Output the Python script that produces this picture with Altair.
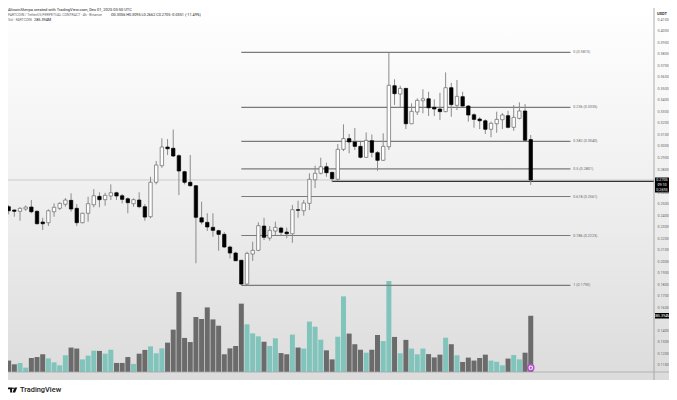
import altair as alt
import pandas as pd

first_index = -3
opens = [.2449,.2473,.2444,.2433,.2453,.2470,.2433,.2340,.2334,.2429,.2459,.2494,.2528,.2459,.2334,.2416,.2490,.2563,.2534,.2566,.2594,.2568,.2542,.2499,.2531,.2473,.2386,.2685,.2829,.2991,.2980,.2916,.2777,.2685,.2655,.2377,.2337,.2294,.2265,.2233,.2123,.2071,.2008,.1802,.2062,.2094,.2305,.2201,.2262,.2288,.2253,.2238,.2447,.2438,.2502,.2707,.2763,.2820,.2771,.2711,.2971,.3064,.3035,.2997,.2902,.3046,.2942,.2876,.2994,.3523,.3451,.3500,.3193,.3295,.3393,.3410,.3336,.3321,.3298,.3506,.3353,.3428,.3347,.3271,.3234,.3219,.3145,.3193,.3228,.3263,.3162,.3240,.3304,.3056]
closes = [.2473,.2438,.2433,.2459,.2470,.2429,.2325,.2325,.2438,.2468,.2502,.2531,.2453,.2334,.2416,.2499,.2568,.2534,.2572,.2594,.2566,.2537,.2508,.2534,.2473,.2383,.2685,.2835,.2991,.2976,.2913,.2783,.2685,.2655,.2381,.2340,.2297,.2268,.2233,.2123,.2071,.2004,.1802,.2068,.2094,.2308,.2207,.2268,.2294,.2251,.2238,.2447,.2442,.2505,.2711,.2763,.2820,.2768,.2716,.2971,.3064,.3035,.2997,.2902,.3049,.2945,.2876,.2997,.3527,.3454,.3500,.3193,.3301,.3396,.3410,.3332,.3321,.3298,.3506,.3359,.3431,.3347,.3269,.3231,.3219,.3145,.3197,.3231,.3269,.3162,.3249,.3304,.3050,.2705]
highs = [.2483,.2488,.2450,.2468,.2482,.2531,.2442,.2377,.2450,.2502,.2511,.2548,.2589,.2496,.2421,.2560,.2626,.2598,.2594,.2667,.2603,.2583,.2554,.2546,.2598,.2496,.2733,.2870,.3066,.3060,.3143,.2928,.2785,.2922,.2661,.2516,.2416,.2416,.2273,.2251,.2134,.2082,.2010,.2082,.2169,.2337,.2377,.2305,.2343,.2299,.2291,.2488,.2525,.2531,.2763,.2829,.2898,.2855,.2777,.3017,.3188,.3104,.3156,.3035,.3118,.3100,.2956,.3110,.3813,.3579,.3523,.3505,.3370,.3414,.3492,.3471,.3405,.3462,.3639,.3549,.3573,.3471,.3356,.3284,.3249,.3231,.3211,.3298,.3286,.3306,.3355,.3379,.3364,.3095]
lows = [.2436,.2407,.2386,.2351,.2438,.2416,.2320,.2271,.2305,.2386,.2444,.2473,.2429,.2305,.2329,.2343,.2468,.2468,.2482,.2531,.2531,.2502,.2416,.2473,.2459,.2351,.2372,.2667,.2811,.2922,.2904,.2574,.2667,.2650,.1982,.2320,.2262,.2212,.2091,.2117,.2025,.2002,.1793,.1793,.2002,.2088,.2184,.2178,.2227,.2227,.2199,.2160,.2377,.2395,.2444,.2635,.2754,.2733,.2685,.2699,.2956,.2936,.2965,.2893,.2896,.2902,.2785,.2870,.2965,.3356,.3336,.3147,.3191,.3269,.3284,.3260,.3260,.3225,.3293,.3254,.3312,.3341,.3211,.3159,.3147,.3104,.3075,.3115,.3147,.3153,.3132,.3231,.3044,.2662]
volumes = [42,58,39,46,22,71,76,90,69,49,34,85,124,119,64,83,108,107,93,113,46,46,76,41,93,112,130,95,120,149,215,406,173,152,279,269,328,267,235,90,120,132,347,242,196,181,154,132,171,96,90,190,124,119,256,230,164,110,64,179,384,195,141,113,98,113,188,157,462,178,95,163,119,90,119,91,74,88,174,141,85,51,73,58,71,88,58,52,34,68,86,64,98,285.394]

fib_ratios = ["0", "0.236", "0.382", "0.5", "0.618", "0.786", "1"]
fib_prices = [0.3813, 0.3335, 0.3040, 0.2801, 0.2561, 0.2223, 0.1790]
fib_start = 39
fib_end = 97
last_price = 0.2705
marked_price = 0.2693
marked_start = 55

price_ticks = [0.11,0.12,0.13,0.14,0.16,0.17,0.18,0.19,0.20,0.21,0.22,0.23,0.24,0.25,0.26,0.28,0.29,0.30,0.31,0.32,0.33,0.34,0.35,0.36,0.37,0.38,0.39,0.40,0.41]
day_labels = ["16","17","18","19","20","21","22","23","24","25","26","27","28","29","30","Dec","2","3","4"]
candles_per_day = 6

PW, PH = 646, 364
TOTAL_W = 661
XS = alt.Scale(domain=[-2.115, 111.72], nice=False, zero=False, padding=0)
YS = alt.Scale(domain=[0.10382, 0.41979], nice=False, zero=False, padding=0)
VS = alt.Scale(domain=[0, 1848], nice=False, zero=False, padding=0)
FONT = "Roboto"
SMALL = 3.7

df = pd.DataFrame({"i": list(range(first_index, first_index + len(opens))),
                   "open": opens, "high": highs, "low": lows, "close": closes,
                   "volume": volumes})
fib = pd.DataFrame({"price": fib_prices, "a": fib_start, "b": fib_end, "t": fib_end + 0.5,
                    "label": [f"{r} ({p:.4f})" for r, p in zip(fib_ratios, fib_prices)]})
one = pd.DataFrame({"p": [last_price], "m": [marked_price], "a": [marked_start], "b": [111.72]})
UP = "datum.close >= datum.open"

bg = alt.Chart(one).mark_rect(
    color=alt.LinearGradient(gradient="linear", x1=0, x2=0, y1=0, y2=1,
                             stops=[alt.GradientStop(color="#ffffff", offset=0),
                                    alt.GradientStop(color="#efefef", offset=0.5),
                                    alt.GradientStop(color="#dcdcdc", offset=1)])
).encode(x=alt.value(0), x2=alt.value(TOTAL_W), y=alt.value(0), y2=alt.value(372))

day_axis = alt.Axis(values=[k * candles_per_day for k in range(len(day_labels))],
                    labelExpr="[" + ",".join(f"'{d}'" for d in day_labels) + f"][datum.value/{candles_per_day}]",
                    labelFont=FONT, labelFontSize=SMALL, labelColor="#666666", labelPadding=1.5,
                    ticks=False, domain=False, grid=False, title=None, zindex=1, labelOverlap=False)
price_axis = alt.Axis(orient="right", values=price_ticks, format=".4f", labelFont=FONT,
                      labelFontSize=SMALL, labelColor="#666666", labelPadding=3,
                      ticks=False, domain=False, grid=False, title=None, zindex=1, labelOverlap=False)
X = alt.X("i:Q", scale=XS, axis=None)

vol = alt.Chart(df).mark_bar(size=5).encode(
    x=alt.X("i:Q", scale=XS, axis=day_axis),
    y=alt.Y("volume:Q", scale=VS, axis=None),
    color=alt.condition(UP, alt.value("#80c4bc"), alt.value("#6b6b6b")))

price_line = alt.Chart(one).mark_rule(color="#bdbdbd", strokeWidth=0.7).encode(
    y=alt.Y("p:Q", scale=YS, axis=None))

fib_lines = alt.Chart(fib).mark_rule(color="#7a7a7a", strokeWidth=1.1).encode(
    x=alt.X("a:Q", scale=XS, axis=None), x2="b:Q", y=alt.Y("price:Q", scale=YS, axis=None))
fib_text = alt.Chart(fib).mark_text(align="left", baseline="middle", font=FONT, fontSize=SMALL,
                                    color="#666666").encode(
    x=alt.X("t:Q", scale=XS, axis=None), y=alt.Y("price:Q", scale=YS, axis=None), text="label:N")

marked = alt.Chart(one).mark_rule(color="#333333", strokeWidth=1.3).encode(
    x=alt.X("a:Q", scale=XS, axis=None), x2="b:Q", y=alt.Y("m:Q", scale=YS, axis=None))

wicks = alt.Chart(df).mark_rule(color="#8c8c8c", strokeWidth=1).encode(
    x=X, y=alt.Y("low:Q", scale=YS, axis=None), y2="high:Q")
bodies = alt.Chart(df).mark_bar(size=3.4, strokeWidth=0.7).encode(
    x=X, y=alt.Y("open:Q", scale=YS, axis=price_axis), y2="close:Q",
    color=alt.condition(UP, alt.value("#ffffff"), alt.value("#000000")),
    stroke=alt.condition(UP, alt.value("#666666"), alt.value("#000000")))

rule_v = alt.Chart(one).mark_rule(color="#9a9a9a", strokeWidth=0.8).encode(
    x=alt.value(PW), y=alt.value(0), y2=alt.value(372))
rule_h = alt.Chart(one).mark_rule(color="#a8a8a8", strokeWidth=0.8).encode(
    x=alt.value(0), x2=alt.value(TOTAL_W), y=alt.value(PH))


def box(x1, x2, y1, y2, color):
    return alt.Chart(one).mark_rect(color=color).encode(
        x=alt.value(x1), x2=alt.value(x2), y=alt.value(y1), y2=alt.value(y2))


def text(t, x, y, color="#666666", size=SMALL, align="left", weight="normal"):
    return alt.Chart(one).mark_text(text=t, align=align, baseline="middle", font=FONT,
                                    fontSize=size, color=color, fontWeight=weight).encode(
        x=alt.value(x), y=alt.value(y))


boxes = [box(647, 661, 169.5, 184.5, "#000000"), box(647, 661, 305, 310.5, "#000000"),
         box(647, 661, 1, 10, "#ffffff")]
labels = [
    text("0.2705", 654, 172, "#ffffff", align="center"),
    text("09:10", 654, 176.8, "#ffffff", align="center"),
    text("0.2693", 654, 181.6, "#ffffff", align="center"),
    text("285.394M", 654, 307.8, "#ffffff", align="center"),
    text("USDT", 654, 6.3, "#333333", size=4, align="center", weight="bold"),
    text("AltcoinSherpa created with TradingView.com, Dec 01, 2025 03:50 UTC", 0, 2, "#222222", size=4.0),
    text("FARTCOIN / TetherUS PERPETUAL CONTRACT · 4h · Binance", 0, 6.8, "#666666", size=3.5),
    text("O0.3056 H0.3095 L0.2662 C0.2705 -0.0351 (-11.49%)", 103, 6.8, "#222222", size=3.8),
    text("Vol · FARTCOIN", 0, 11.5, "#666666", size=3.5),
    text("285.394M", 26, 11.5, "#222222", size=3.8),
    text("TradingView", 12, 382, "#1a1a1a", size=7.4, weight=500),
]

logo_path = ("M-1,-0.55H-0.1V0.55H-0.5V-0.15H-1Z "
             "M0.3,-0.35A0.2,0.2 0 1 1 -0.1,-0.35A0.2,0.2 0 1 1 0.3,-0.35Z "
             "M0.45,-0.55H1L0.55,0.55H0Z")
logo = alt.Chart(one).mark_point(shape=logo_path, filled=True, color="#111111", size=90, opacity=1).encode(
    x=alt.value(4.5), y=alt.value(382))

event_base = pd.DataFrame({"i": [90], "v": [22]})
event_ring = alt.Chart(event_base).mark_point(filled=True, fill="#ffffff", stroke="#b44fd0", strokeWidth=1.6,
                                              size=36, opacity=1).encode(
    x=X, y=alt.Y("v:Q", scale=VS, axis=None))
event_dot = alt.Chart(event_base).mark_point(filled=True, color="#b44fd0", size=6, opacity=1).encode(
    x=X, y=alt.Y("v:Q", scale=VS, axis=None))

chart = alt.layer(bg, vol, price_line, fib_lines, fib_text, marked, wicks, bodies,
                  rule_v, rule_h, *boxes, *labels, logo, event_ring, event_dot
                  ).resolve_scale(y="independent").properties(
    width=PW, height=PH, padding={"left": 0, "top": 0, "right": TOTAL_W - PW, "bottom": 24},
    autosize=alt.AutoSizeParams(type="none"), background="#ffffff"
).configure_view(stroke=None)

chart.save("out.html", embed_options={"renderer": "svg", "actions": False})
